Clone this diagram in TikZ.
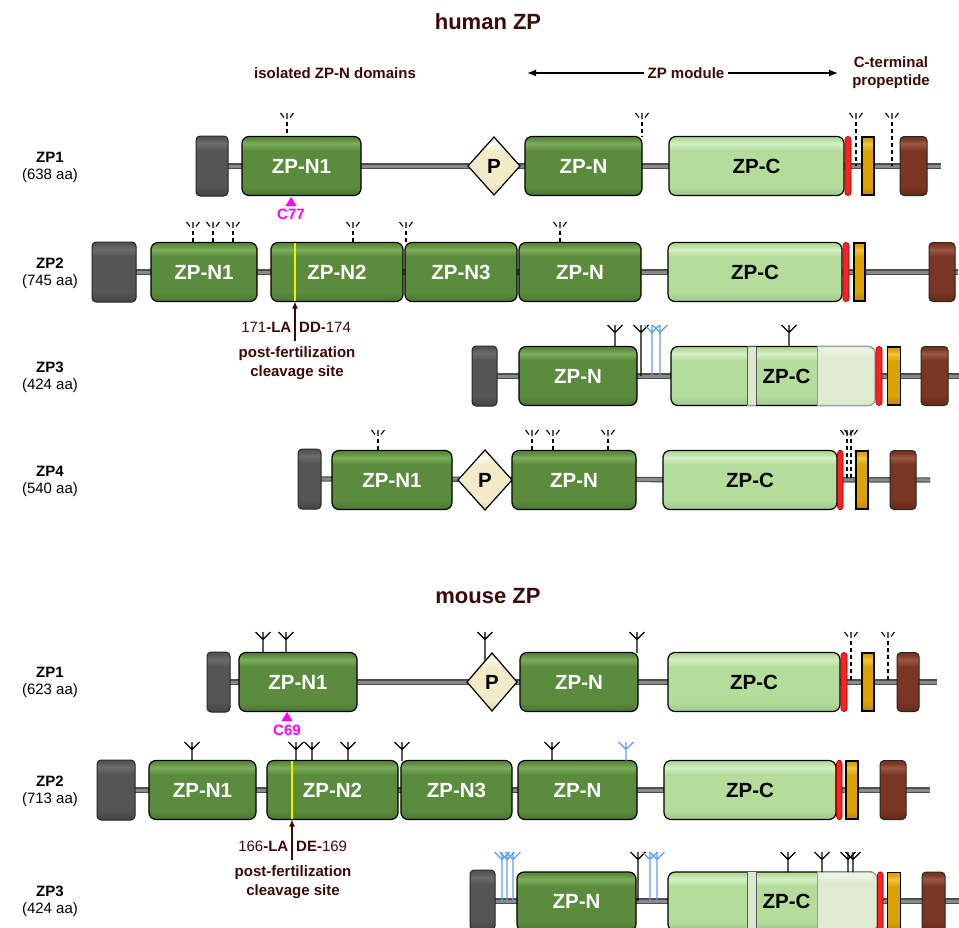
\documentclass[tikz,border=0pt]{standalone}
\usepackage{fontspec}
\setmainfont{Liberation Sans}
\usetikzlibrary{shapes.geometric,arrows.meta,shadings}
\pgfdeclarelayer{background}
\pgfsetlayers{background,main}

\definecolor{dgM}{HTML}{5B8B3C}\definecolor{dgH}{HTML}{7DAE5B}\definecolor{dgB}{HTML}{4A7631}
\definecolor{lgM}{HTML}{B4DC9B}\definecolor{lgH}{HTML}{D6F0C6}\definecolor{lgB}{HTML}{9FC788}
\definecolor{grM}{HTML}{555555}\definecolor{grH}{HTML}{6C6C6C}\definecolor{grB}{HTML}{444444}
\definecolor{brM}{HTML}{7A3523}\definecolor{brH}{HTML}{9C5843}\definecolor{brB}{HTML}{65291A}
\definecolor{yeM}{HTML}{DBA200}\definecolor{yeH}{HTML}{F2C53A}\definecolor{yeB}{HTML}{B98600}
\definecolor{crM}{HTML}{F3EBC8}\definecolor{crH}{HTML}{FFFDF0}\definecolor{crB}{HTML}{DCCF9C}
\definecolor{faM}{HTML}{DEEBD0}\definecolor{faH}{HTML}{EDF5E6}\definecolor{faB}{HTML}{D3E2C4}
\definecolor{bandC}{HTML}{DCE8D0}
\definecolor{zpred}{HTML}{FF2222}
\definecolor{zpblue}{HTML}{5A9DF2}
\definecolor{maroon}{HTML}{3C0808}
\definecolor{bbD}{HTML}{4E4E4E}\definecolor{bbL}{HTML}{8A8A8A}
\definecolor{ylin}{HTML}{F2F200}
\definecolor{cmag}{HTML}{FF00FF}

\newcommand\mkshade[4]{\pgfdeclareverticalshading{#1}{100bp}{color(0bp)=(#4); color(25bp)=(#4); color(33bp)=(#2); color(63bp)=(#2); color(69bp)=(#3); color(73bp)=(#2); color(100bp)=(#2)}}
\mkshade{shdg}{dgM}{dgH}{dgB}
\mkshade{shlg}{lgM}{lgH}{lgB}
\mkshade{shgr}{grM}{grH}{grB}
\mkshade{shbr}{brM}{brH}{brB}
\mkshade{shye}{yeM}{yeH}{yeB}
\mkshade{shcr}{crM}{crH}{crB}
\mkshade{shfa}{faM}{faH}{faB}

\newcommand\domfont{\bfseries\fontsize{20.5}{23}\selectfont}
\newcommand\smfont{\fontsize{15}{18}\selectfont}

\tikzset{
  dombase/.style={draw=black, line width=1.2pt, rounded corners=7pt, minimum height=59pt, inner sep=0pt, outer sep=0pt, font=\domfont},
  zpn/.style={dombase, shade, shading=shdg, text=white},
  zpc/.style={dombase, shade, shading=shlg, text=black},
  gbox/.style={draw=black!85, line width=1pt, rounded corners=4pt, minimum height=60pt, inner sep=0pt, outer sep=0pt, shade, shading=shgr},
  bbox/.style={draw=black!85, line width=1pt, rounded corners=4pt, minimum height=59pt, inner sep=0pt, outer sep=0pt, shade, shading=shbr},
  ybar/.style={draw=black, line width=1.5pt, minimum height=58pt, inner sep=0pt, outer sep=0pt, shade, shading=shye},
  rbar/.style={draw=red!65!black, line width=0.6pt, fill=zpred, rounded corners=2.8pt, minimum height=59pt, inner sep=0pt, outer sep=0pt},
  pdiam/.style={diamond, draw=black, line width=1.2pt, shade, shading=shcr, inner sep=0pt, outer sep=0pt, font=\domfont},
  backbone/.style={draw=bbD, line width=1.2pt, double=bbL, double distance=3pt},
  rowname/.style={font=\bfseries\smfont},
  rowaa/.style={font=\smfont},
  head/.style={font=\bfseries\smfont, text=maroon, align=center},
  title/.style={font=\bfseries\fontsize{22}{26}\selectfont, text=maroon},
  cyst/.style={font=\bfseries\smfont, text=cmag},
  cltext/.style={font=\smfont, text=maroon, inner sep=0pt},
  clbold/.style={font=\bfseries\smfont, text=maroon},
  clarrow/.style={draw=maroon, line width=1.3pt, -{Latex[length=7pt,width=6pt]}},
  harrow/.style={draw=black, line width=1.3pt, -{Latex[length=9pt,width=7pt]}},
  yline/.style={draw=ylin, line width=1.6pt},
  divline/.style={draw=black!65, line width=0.9pt},
  fadeborder/.style={draw=black!35, line width=1.2pt, rounded corners=7pt}
}

% domain: style, name, x1, x2, row, text
\newcommand\dom[6]{\node[#1, minimum width={#4pt-#3pt}, anchor=west] (#2) at (#3,#5) {#6};}
% solid glycan: [colour] x, ytop, ybottom
\newcommand\glyS[4][black]{\draw[#1, line width=1.15pt] (#2,#3) -- (#2,#4) (#2-7.5,#3) -- (#2,#3+7.5) -- (#2+7.5,#3);}
% dashed glycan: x, ytop, ybottom
\newcommand\glyD[3]{\draw[line width=1.1pt] (#1-6.5,#2) -- (#1-3,#2+4.5) (#1+6.5,#2) -- (#1+3,#2+4.5) (#1,#2) -- (#1,#2+6);
  \draw[line width=1.1pt, dash pattern=on 4pt off 3pt] (#1,#2+9) -- (#1,#3);}

\begin{document}
\begin{tikzpicture}[x=1pt,y=-1pt]
\useasboundingbox (0,0) rectangle (959,927);
\clip (0,0) rectangle (959,927);

% ---------- titles and header ----------
\node[title] (tH) at (488,22) {human ZP};
\node[title] (tM) at (488,596) {mouse ZP};
\node[head] (hIso) at (335,73) {isolated ZP-N domains};
\node[head] (hMod) at (686,73) {ZP module};
\coordinate (hModL) at (527,73);
\coordinate (hModR) at (838,73);
\draw[harrow] (hMod.west) -- (hModL);
\draw[harrow] (hMod.east) -- (hModR);
\node[head] (hCt) at (891,73) {C-terminal\\propeptide};

% ---------- row labels ----------
\node[rowname] (l1) at (50,157) {ZP1}; \node[rowaa] (l1a) at (50,176) {(638 aa)};
\node[rowname] (l2) at (50,263) {ZP2}; \node[rowaa] (l2a) at (50,282) {(745 aa)};
\node[rowname] (l3) at (50,367) {ZP3}; \node[rowaa] (l3a) at (50,386) {(424 aa)};
\node[rowname] (l4) at (50,471) {ZP4}; \node[rowaa] (l4a) at (50,490) {(540 aa)};
\node[rowname] (l5) at (50,672) {ZP1}; \node[rowaa] (l5a) at (50,691) {(623 aa)};
\node[rowname] (l6) at (50,781) {ZP2}; \node[rowaa] (l6a) at (50,800) {(713 aa)};
\node[rowname] (l7) at (50,891) {ZP3}; \node[rowaa] (l7a) at (50,910) {(424 aa)};

% ---------- human ZP1 ----------
\dom{gbox}{h1g}{196}{228}{166}{}
\dom{zpn}{h1n1}{242}{361}{166}{ZP-N1}
\node[pdiam, minimum width=52pt, minimum height=58pt] (h1p) at (494,166) {P};
\dom{zpn}{h1n}{525}{642}{166}{ZP-N}
\dom{zpc}{h1c}{669}{844}{166}{ZP-C}
\dom{rbar}{h1r}{845}{851}{166}{}
\dom{ybar}{h1y}{862}{874}{166}{}
\dom{bbox}{h1b}{900}{927}{166}{}
\coordinate (h1e) at (941,166);
\glyD{287}{113}{137}\glyD{642}{113}{137}\glyD{856}{113}{166}\glyD{892}{113}{166}
\fill[cmag] (291,197) -- (285.5,206) -- (296.5,206) -- cycle;
\node[cyst] (h1cy) at (291,214) {C77};

% ---------- human ZP2 ----------
\dom{gbox}{h2g}{92}{136}{272}{}
\dom{zpn}{h2n1}{151}{257}{272}{ZP-N1}
\dom{zpn}{h2n2}{271}{403}{272}{ZP-N2}
\dom{zpn}{h2n3}{405}{517}{272}{ZP-N3}
\dom{zpn}{h2n}{519}{641}{272}{ZP-N}
\dom{zpc}{h2c}{668}{842}{272}{ZP-C}
\dom{rbar}{h2r}{843}{849}{272}{}
\dom{ybar}{h2y}{854}{865}{272}{}
\dom{bbox}{h2b}{929}{955}{272}{}
\coordinate (h2e) at (958,272);
\draw[yline] (295,243.2) -- (295,300.8);
\glyD{193}{222}{243}\glyD{213}{222}{243}\glyD{233}{222}{243}\glyD{353}{222}{243}\glyD{406}{222}{243}\glyD{560}{222}{243}
\coordinate (h2cs) at (295,341);
\draw[clarrow] (h2cs) -- (h2cs |- h2n2.south);
\node[cltext, anchor=east] (h2la) at (291.5,327) {171\textbf{-LA}};
\node[cltext, anchor=west] (h2lb) at (299,327) {\textbf{DD-}174};
\node[clbold] (h2pf) at (297,354) {post-fertilization};
\node[clbold] (h2cl) at (297,373) {cleavage site};

% ---------- human ZP3 ----------
\dom{gbox}{h3g}{472}{497}{376}{}
\dom{zpn}{h3n}{519}{637}{376}{ZP-N}
\dom{zpc}{h3c}{671}{875}{376}{}
\begin{scope}
  \clip[rounded corners=7pt] (h3c.south west) rectangle (h3c.north east);
  \shade[shading=shfa] (817,340) rectangle (882,412);
  \fill[bandC] (747,340) rectangle (756,412);
\end{scope}
\draw[divline] (747,347) -- (747,405) (756,347) -- (756,405);
\draw[divline, draw=black!40] (817,347) -- (817,405);
\begin{scope}
  \clip (817,330) rectangle (890,420);
  \draw[fadeborder] (h3c.south west) rectangle (h3c.north east);
\end{scope}
\node[font=\domfont] (h3ct) at (786.5,376) {ZP-C};
\dom{rbar}{h3r}{876}{882}{376}{}
\dom{ybar}{h3y}{887.5}{900.5}{376}{}
\dom{bbox}{h3b}{921}{948}{376}{}
\coordinate (h3e) at (959,376);
\glyS{615}{325}{347}\glyS{641}{325}{376}\glyS[zpblue]{652}{325}{376}\glyS[zpblue]{660}{325}{376}\glyS{789}{325}{347}

% ---------- human ZP4 ----------
\dom{gbox}{h4g}{298}{321}{479}{}
\dom{zpn}{h4n1}{332}{452}{480}{ZP-N1}
\node[pdiam, minimum width=54pt, minimum height=60pt] (h4p) at (485,480) {P};
\dom{zpn}{h4n}{512}{636}{480}{ZP-N}
\dom{zpc}{h4c}{663}{837}{480}{ZP-C}
\dom{rbar}{h4r}{837.5}{843}{480}{}
\dom{ybar}{h4y}{856}{868}{480}{}
\dom{bbox}{h4b}{890}{916}{480}{}
\coordinate (h4e) at (930,480);
\glyD{378}{430}{450}\glyD{532}{430}{450}\glyD{553}{430}{450}\glyD{608}{430}{450}\glyD{847}{430}{480}\glyD{851}{430}{480}

% ---------- mouse ZP1 ----------
\dom{gbox}{m1g}{207}{230}{682}{}
\dom{zpn}{m1n1}{239}{357}{682}{ZP-N1}
\node[pdiam, minimum width=50pt, minimum height=58pt] (m1p) at (492,682) {P};
\dom{zpn}{m1n}{520}{638}{682}{ZP-N}
\dom{zpc}{m1c}{668}{840}{682}{ZP-C}
\dom{rbar}{m1r}{841}{847}{682}{}
\dom{ybar}{m1y}{862}{874}{682}{}
\dom{bbox}{m1b}{897}{919}{682}{}
\coordinate (m1e) at (937,682);
\glyS{263}{632}{653}\glyS{286}{632}{653}\glyS{485}{632}{661}\glyS{637}{632}{653}
\glyD{851}{632}{682}\glyD{888}{632}{682}
\fill[cmag] (287,712) -- (281.5,721) -- (292.5,721) -- cycle;
\node[cyst] (m1cy) at (287,730) {C69};

% ---------- mouse ZP2 ----------
\dom{gbox}{m2g}{97}{135}{790}{}
\dom{zpn}{m2n1}{149}{256}{790}{ZP-N1}
\dom{zpn}{m2n2}{267}{398}{790}{ZP-N2}
\dom{zpn}{m2n3}{401}{512}{790}{ZP-N3}
\dom{zpn}{m2n}{518}{637}{790}{ZP-N}
\dom{zpc}{m2c}{664}{836}{790}{ZP-C}
\dom{rbar}{m2r}{836.5}{842}{790}{}
\dom{ybar}{m2y}{846}{858}{790}{}
\dom{bbox}{m2b}{880}{906}{790}{}
\coordinate (m2e) at (930,790);
\draw[yline] (292,761.2) -- (292,818.8);
\glyS{192}{742}{761}\glyS{296}{742}{761}\glyS{312}{742}{761}\glyS{348}{742}{761}\glyS{402}{742}{761}\glyS{552}{742}{761}\glyS[zpblue]{626}{742}{761}
\coordinate (m2cs) at (292,860);
\draw[clarrow] (m2cs) -- (m2cs |- m2n2.south);
\node[cltext, anchor=east] (m2la) at (288.5,846) {166\textbf{-LA}};
\node[cltext, anchor=west] (m2lb) at (296,846) {\textbf{DE-}169};
\node[clbold] (m2pf) at (293,873) {post-fertilization};
\node[clbold] (m2cl) at (293,892) {cleavage site};

% ---------- mouse ZP3 ----------
\dom{gbox}{m3g}{470}{495}{900}{}
\dom{zpn}{m3n}{517}{636}{901.5}{ZP-N}
\dom{zpc}{m3c}{668}{877}{901.5}{}
\begin{scope}
  \clip[rounded corners=7pt] (m3c.south west) rectangle (m3c.north east);
  \shade[shading=shfa] (817,865) rectangle (884,940);
  \fill[bandC] (747,865) rectangle (756,940);
\end{scope}
\draw[divline] (747,872) -- (747,931) (756,872) -- (756,931);
\draw[divline, draw=black!40] (817,872) -- (817,931);
\begin{scope}
  \clip (817,855) rectangle (890,945);
  \draw[fadeborder] (m3c.south west) rectangle (m3c.north east);
\end{scope}
\node[font=\domfont] (m3ct) at (786.5,901.5) {ZP-C};
\dom{rbar}{m3r}{877.5}{883}{901.5}{}
\dom{ybar}{m3y}{887.5}{900.5}{901.5}{}
\dom{bbox}{m3b}{922}{945}{901.5}{}
\coordinate (m3e) at (959,901);
\glyS[zpblue]{502}{852}{901}\glyS[zpblue]{507}{852}{901}\glyS[zpblue]{513}{852}{901}
\glyS{638}{852}{901}\glyS[zpblue]{650}{852}{901}\glyS[zpblue]{657}{852}{901}
\glyS{788}{852}{872}\glyS{822}{852}{872}\glyS{848}{852}{872}\glyS{853}{852}{872}

% ---------- backbones ----------
\begin{pgfonlayer}{background}
  \draw[backbone] (h1g.east) -- (h1e);
  \draw[backbone] (h2g.east) -- (h2e);
  \draw[backbone] (h3g.east) -- (h3e);
  \draw[backbone] (h4g.east) -- (h4e);
  \draw[backbone] (m1g.east) -- (m1e);
  \draw[backbone] (m2g.east) -- (m2e);
  \draw[backbone] (m3g.east |- m3e) -- (m3e);
\end{pgfonlayer}
\end{tikzpicture}
\end{document}
